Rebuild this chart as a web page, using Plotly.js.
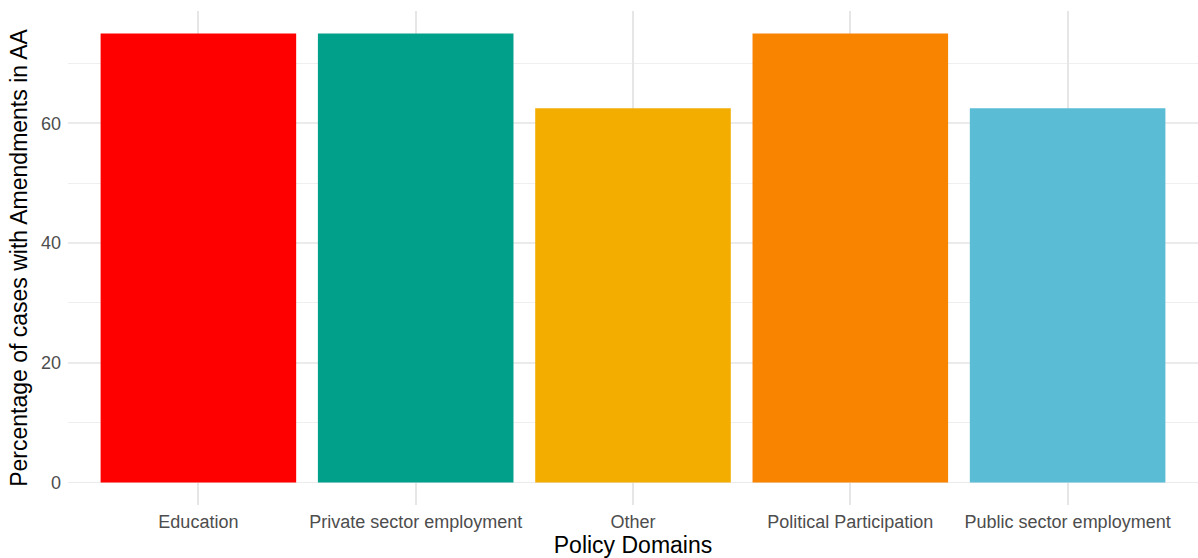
<!DOCTYPE html>
<html>
<head>
<meta charset="utf-8">
<script src="https://cdn.plot.ly/plotly-3.0.1.min.js"></script>
<style>html,body{margin:0;padding:0;background:#fff;}#chart{width:1198px;height:558px;}</style>
</head>
<body>
<div id="chart"></div>
<script>
const categories = ["Education", "Private sector employment", "Other", "Political Participation", "Public sector employment"];
const percentages = [75, 75, 62.5, 75, 62.5];
const barColors = ["#FF0000", "#00A08A", "#F2AD00", "#F98400", "#5BBCD6"];
const yTickVals = [0, 20, 40, 60];

const trace = {
  type: "bar",
  x: categories,
  y: percentages,
  marker: {color: barColors, line: {width: 0}},
  width: 0.9,
  hoverinfo: "x+y"
};

const layout = {
  width: 1198, height: 558,
  margin: {l: 68, r: 0, t: 11, b: 53},
  paper_bgcolor: "#fff", plot_bgcolor: "#fff",
  font: {family: "Liberation Sans, Arial, sans-serif", color: "#4D4D4D", size: 18},
  showlegend: false,
  bargap: 0.1,
  xaxis: {
    type: "category",
    range: [-0.6, 4.6],
    automargin: false,
    showgrid: true, gridcolor: "#E6E6E6", gridwidth: 2,
    zeroline: false, showline: false, ticks: "",
    tickfont: {size: 18, color: "#4D4D4D"},
    ticklabelstandoff: 4,
    title: {text: "Policy Domains", font: {size: 23, color: "#000"}, standoff: 2}
  },
  yaxis: {
    range: [-3.75, 78.75],
    tickvals: yTickVals,
    automargin: false,
    showgrid: true, gridcolor: "#EBEBEB", gridwidth: 1.6,
    minor: {dtick: 10, tick0: 0, showgrid: true, gridcolor: "#EBEBEB", gridwidth: 0.8, ticks: ""},
    zeroline: false, showline: false, ticks: "",
    tickfont: {size: 18, color: "#4D4D4D"},
    ticklabelstandoff: 6,
    title: {text: "Percentage of cases with Amendments in AA", font: {size: 23, color: "#000"}, standoff: 6}
  }
};

Plotly.newPlot("chart", [trace], layout, {displayModeBar: false, staticPlot: true});
</script>
</body>
</html>
